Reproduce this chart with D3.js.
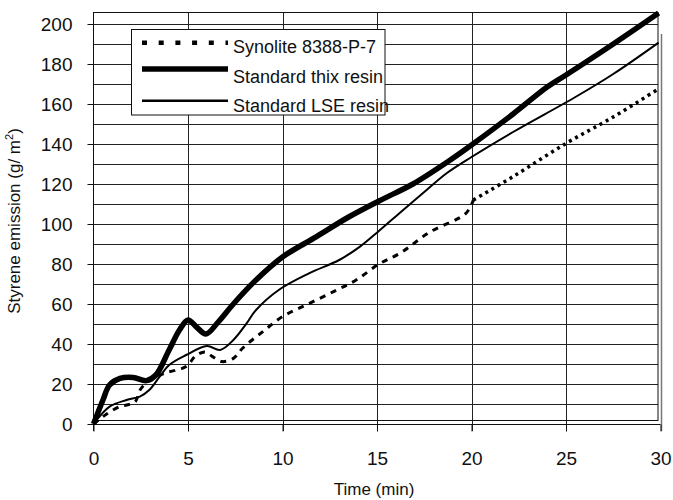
<!DOCTYPE html>
<html>
<head>
<meta charset="utf-8">
<script src="https://cdn.jsdelivr.net/npm/d3@7"></script>
<style>
  html, body { margin: 0; padding: 0; background: #fff; }
  svg { display: block; font-family: Arial, "Liberation Sans", sans-serif; }
</style>
</head>
<body>
<svg id="chart" width="673" height="500"></svg>
<script>
// ---- data ----
const xTicks = [0, 5, 10, 15, 20, 25, 30];
const yTicks = [0, 20, 40, 60, 80, 100, 120, 140, 160, 180, 200];
const seriesNames = ["Synolite 8388-P-7", "Standard thix resin", "Standard LSE resin"];

const synoliteT = [0, 0.7, 1.4, 1.9, 2.2, 2.5, 3.0, 3.8, 4.9, 5.4, 5.9, 6.3, 6.8, 7.4, 7.9, 9.0, 10, 11.25, 12.7, 13.9, 15.1, 16.2, 17.8, 19.7, 20.1, 22.2, 25, 27.5, 29.8];
const synoliteV = [0, 5, 8.7, 9.8, 11, 17.5, 22, 25.5, 28.7, 34, 36, 33.7, 31.2, 32.8, 38, 46.5, 53.7, 59.5, 66.2, 72, 80, 85.3, 96, 105.3, 112, 123.7, 140.3, 153.5, 167];

const thixT = [0, 0.5, 0.85, 1.4, 2.1, 2.8, 3.3, 4.0, 4.55, 5.0, 5.45, 5.95, 6.6, 7.4, 8.6, 10, 11.8, 13.5, 15.1, 16.9, 18.8, 20, 22.2, 24, 25, 27.5, 29.9];
const thixV = [0, 12, 19.5, 22.8, 23.3, 21.7, 24.5, 37, 47, 52, 48.5, 45, 51, 60, 72, 83.5, 93.7, 103.5, 111.5, 120, 131.5, 139.5, 155, 168.5, 174.5, 190, 205.5];

const lseT = [0, 0.85, 1.75, 2.45, 2.95, 3.5, 4.0, 4.9, 6.0, 6.7, 7.4, 8.1, 8.6, 9.8, 11.4, 13, 14.1, 15.1, 16.2, 17.5, 18.7, 20, 22.2, 25.5, 27.5, 29.9];
const lseV = [0, 8.7, 12, 13.7, 17, 23.7, 29.5, 34.5, 39, 37, 42, 50.3, 57, 67, 75.3, 82, 88.7, 96.5, 105.5, 116, 125.5, 133.5, 146, 163.5, 175, 190.7];

// ---- layout ----
const svg = d3.select("#chart");
const x = d3.scaleLinear().domain([0, 30]).range([93.5, 660.5]);
const y = d3.scaleLinear().domain([0, 200]).range([424, 24]);
const plotTop = 12;

const zip = (ts, vs) => ts.map((t, i) => ({ t, v: vs[i] }));
const line = d3.line().x(d => x(d.t)).y(d => y(d.v)).curve(d3.curveCatmullRom.alpha(0.5));

// horizontal gridlines every 10
const gridY = d3.range(10, 201, 10);
svg.append("g").selectAll("line").data(gridY).join("line")
  .attr("x1", x(0)).attr("x2", 658)
  .attr("y1", d => y(d) + 0.5).attr("y2", d => y(d) + 0.5)
  .attr("stroke", "#222").attr("stroke-width", 1);

// vertical gridlines
svg.append("g").selectAll("line").data([5, 10, 15, 20, 25]).join("line")
  .attr("x1", d => Math.round(x(d)) + 0.5).attr("x2", d => Math.round(x(d)) + 0.5)
  .attr("y1", plotTop).attr("y2", 431)
  .attr("stroke", "#222").attr("stroke-width", 1);

// plot frame
svg.append("rect").attr("x", 93.5).attr("y", plotTop + 0.5).attr("width", 564.5).attr("height", 408)
  .attr("fill", "none").attr("stroke", "#111").attr("stroke-width", 1);
svg.append("line").attr("x1", 661.5).attr("x2", 661.5).attr("y1", 34).attr("y2", 431)
  .attr("stroke", "#777").attr("stroke-width", 1.5);

// axes
const yAxis = d3.axisLeft(y).tickValues(yTicks).tickSize(6).tickPadding(15);
const gy = svg.append("g").attr("transform", "translate(93.5,0)").call(yAxis);
gy.select(".domain").attr("stroke", "#111").attr("d", `M0,${plotTop}V431`);
gy.selectAll(".tick line").attr("stroke", "#111");
gy.selectAll(".tick text").attr("font-size", 19).attr("fill", "#111")
  .attr("font-family", "Arial, 'Liberation Sans', sans-serif");

const xAxis = d3.axisBottom(x).tickValues(xTicks).tickSize(7).tickPadding(20);
const gx = svg.append("g").attr("transform", "translate(0,424.5)").call(xAxis);
gx.select(".domain").attr("stroke", "#111").attr("d", `M${x(0)},0H${x(30)}`);
gx.selectAll(".tick line").attr("stroke", "#111");
gx.selectAll(".tick text").attr("font-size", 19).attr("fill", "#111")
  .attr("font-family", "Arial, 'Liberation Sans', sans-serif");

// axis titles
svg.append("text").attr("x", 374).attr("y", 495).attr("text-anchor", "middle")
  .attr("font-size", 17).attr("fill", "#111").text("Time (min)");
const yt = svg.append("text").attr("transform", "translate(20,221) rotate(-90)")
  .attr("text-anchor", "middle").attr("font-size", 17).attr("fill", "#111");
yt.append("tspan").text("Styrene emission (g/ m");
yt.append("tspan").attr("font-size", 11).attr("dy", -7).text("2");
yt.append("tspan").attr("dy", 7).text(")");

// series
const syn = zip(synoliteT, synoliteV);
svg.append("path").datum(syn.filter(d => d.t <= 20.1)).attr("d", line)
  .attr("fill", "none").attr("stroke", "#000").attr("stroke-width", 3)
  .attr("stroke-dasharray", "6,6");
svg.append("path").datum(syn.filter(d => d.t >= 20.1)).attr("d", line)
  .attr("fill", "none").attr("stroke", "#000").attr("stroke-width", 3.5)
  .attr("stroke-dasharray", "3,4");

svg.append("path").datum(zip(lseT, lseV)).attr("d", line)
  .attr("fill", "none").attr("stroke", "#000").attr("stroke-width", 2);

svg.append("path").datum(zip(thixT, thixV)).attr("d", line)
  .attr("fill", "none").attr("stroke", "#000").attr("stroke-width", 5.5)
  .attr("stroke-linejoin", "round");

// legend
const lg = svg.append("g");
lg.append("rect").attr("x", 131.5).attr("y", 29.5).attr("width", 253.5).attr("height", 85.5)
  .attr("fill", "#fff").attr("stroke", "#111").attr("stroke-width", 1);
const legendRows = [
  { name: seriesNames[0], ly: 42.7, ty: 53, w: 4.5, dash: "5,11.7" },
  { name: seriesNames[1], ly: 69, ty: 83, w: 5.5, dash: null },
  { name: seriesNames[2], ly: 100.7, ty: 112, w: 2.5, dash: null }
];
legendRows.forEach(r => {
  const l = lg.append("line").attr("x1", 142).attr("x2", 228)
    .attr("y1", r.ly).attr("y2", r.ly).attr("stroke", "#000").attr("stroke-width", r.w);
  if (r.dash) l.attr("stroke-dasharray", r.dash);
  lg.append("text").attr("x", 233).attr("y", r.ty).attr("font-size", 18)
    .attr("fill", "#111").text(r.name);
});
</script>
</body>
</html>
